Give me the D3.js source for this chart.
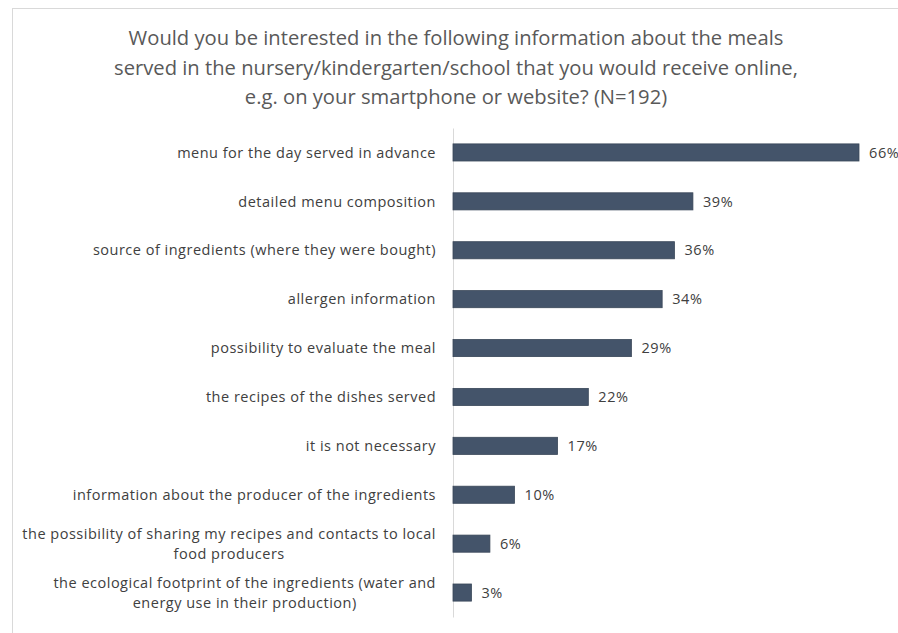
<!DOCTYPE html>
<html>
<head>
<meta charset="utf-8">
<script src="https://cdn.jsdelivr.net/npm/d3@7"></script>
<style>
  body { margin: 0; background: #fff; }
  svg { display: block; font-family: "Open Sans", sans-serif; }
</style>
</head>
<body>
<div class="chart"></div>
<script>
const titleLines = [
    "Would you be interested in the following information about the meals",
    "served in the nursery/kindergarten/school that you would receive online,",
    "e.g. on your smartphone or website? (N=192)"
];

const categories = [
    "menu for the day served in advance",
    "detailed menu composition",
    "source of ingredients (where they were bought)",
    "allergen information",
    "possibility to evaluate the meal",
    "the recipes of the dishes served",
    "it is not necessary",
    "information about the producer of the ingredients",
    "the possibility of sharing my recipes and contacts to local\nfood producers",
    "the ecological footprint of the ingredients (water and\nenergy use in their production)"
];

const values = [66, 39, 36, 34, 29, 22, 17, 10, 6, 3];

const data = categories.map((c, i) => ({ category: c, value: values[i] }));

const width = 898, height = 633;
const axisX = 453;

const svg = d3.select(".chart").append("svg")
    .attr("width", width)
    .attr("height", height);

// light frame (top and left edges visible)
svg.append("rect")
    .attr("x", 12.5)
    .attr("y", 8.5)
    .attr("width", width)
    .attr("height", height)
    .attr("fill", "none")
    .attr("stroke", "#d9d9d9");

svg.append("g")
    .selectAll("text")
    .data(titleLines)
    .enter()
    .append("text")
    .attr("x", 456)
    .attr("y", (d, i) => 45 + i * 29.5)
    .attr("text-anchor", "middle")
    .attr("font-size", 20.2)
    .attr("fill", "#595959")
    .text(d => d);

const x = d3.scaleLinear()
    .domain([0, 66])
    .range([axisX, 859]);

const y = d3.scaleBand()
    .domain(categories)
    .range([128, 617])
    .paddingInner(0.65)
    .paddingOuter(0.325);

const yAxis = d3.axisLeft(y).tickSize(0).tickFormat("");

svg.append("g")
    .attr("class", "y-axis")
    .attr("transform", `translate(${axisX},0)`)
    .call(yAxis)
    .call(g => g.select(".domain").attr("stroke", "#d9d9d9"));

svg.selectAll(".bar")
    .data(data)
    .enter()
    .append("rect")
    .attr("class", "bar")
    .attr("x", x(0))
    .attr("y", d => y(d.category))
    .attr("width", d => x(d.value) - x(0))
    .attr("height", y.bandwidth())
    .attr("fill", "#44546a")
    .attr("stroke", "#3a4759")
    .attr("stroke-width", 0.8);

svg.selectAll(".value")
    .data(data)
    .enter()
    .append("text")
    .attr("class", "value")
    .attr("x", d => x(d.value) + 10)
    .attr("y", d => y(d.category) + y.bandwidth() / 2)
    .attr("dy", "0.36em")
    .attr("font-size", 14.5)
    .attr("letter-spacing", 0.6)
    .attr("fill", "#404040")
    .text(d => d.value + "%");

// category labels, wrapped lines centred on the widest line
const labelRight = 436;
const labels = svg.selectAll(".label")
    .data(data)
    .enter()
    .append("g")
    .attr("class", "label");

labels.each(function(d) {
    const g = d3.select(this);
    const lines = d.category.split("\n");
    const cy = y(d.category) + y.bandwidth() / 2;
    const texts = lines.map((l, i) => g.append("text")
        .attr("y", cy + (i - (lines.length - 1) / 2) * 20)
        .attr("dy", "0.36em")
        .attr("font-size", 14.5)
        .attr("letter-spacing", 0.5)
        .attr("fill", "#404040")
        .text(l));
    const maxW = d3.max(texts, t => t.node().getComputedTextLength());
    texts.forEach(t => t
        .attr("text-anchor", "middle")
        .attr("x", labelRight - maxW / 2));
});
</script>
</body>
</html>
